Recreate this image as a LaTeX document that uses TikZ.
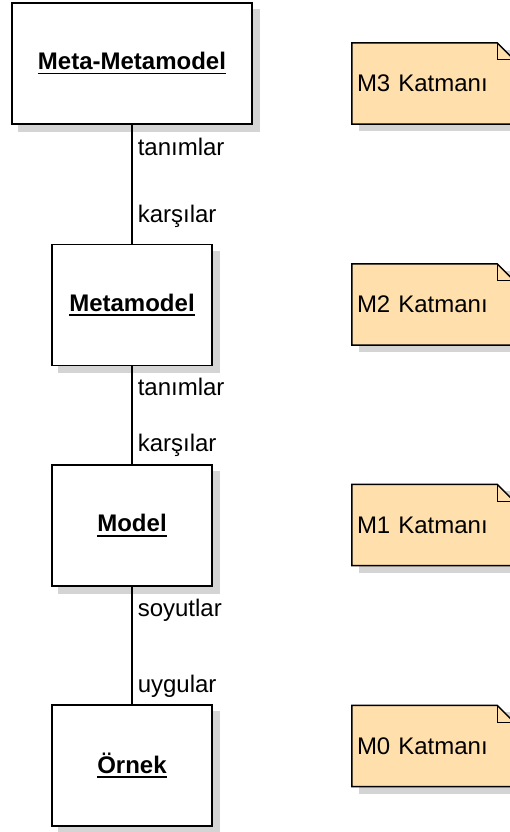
\documentclass[tikz,border=0pt]{standalone}
\usepackage{fontspec}
\setmainfont{Liberation Sans}
\usetikzlibrary{backgrounds}
\definecolor{notefill}{RGB}{255,223,172}
\definecolor{shadowgray}{RGB}{212,212,212}

% underline drawn as a rule below the word
\newcommand\ulabel[1]{\setbox0\hbox{#1}\rlap{\vrule height -2.8pt depth 4.6pt width \wd0}\box0}
% dog-eared outline and shadow of a note node
\newcommand\notebody[1]{%
  \fill[shadowgray] ([shift={(7,7)}]#1.north west) rectangle ([shift={(7,7)}]#1.south east);
  \filldraw[fill=notefill, line width=1.5pt] (#1.south west) -- (#1.north west) -- ([shift={(-17,0)}]#1.north east) -- ([shift={(0,17)}]#1.north east) -- (#1.south east) -- cycle;
  \draw[line width=1.2pt] ([shift={(-17,0)}]#1.north east) |- ([shift={(0,17)}]#1.north east);
}
\newcommand\boxshadow[1]{%
  \fill[shadowgray] ([shift={(7,7)}]#1.north west) rectangle ([shift={(7,7)}]#1.south east);
}

\begin{document}
\begin{tikzpicture}[x=1pt,y=1pt,yscale=-1,xscale=1,
  every node/.style={font=\fontsize{24}{28}\selectfont},
  level/.style={draw, fill=white, line width=1.5pt, minimum width=160pt, minimum height=121pt, inner sep=0pt, font=\fontsize{24}{28}\selectfont\bfseries},
  layer/.style={minimum width=162pt, minimum height=81pt, text width=152pt, inner xsep=5pt, inner ysep=0pt, align=left},
  link/.style={line width=1.5pt},
  lbl/.style={anchor=base west, inner sep=0pt, xshift=5pt}]
\useasboundingbox (0,0) rectangle (509,832);

% levels
\node[level, minimum width=240pt] (metameta) at (132,63.5) {\ulabel{Meta-Metamodel}};
\node[level] (meta) at (132,305) {\ulabel{Metamodel}};
\node[level] (model) at (132,525.5) {\ulabel{Model}};
\node[level] (ornek) at (132,765.5) {\ulabel{Örnek}};

% layer notes
\node[layer] (m3) at (433,83.5) {M3 Katmanı};
\node[layer] (m2) at (433,304.5) {M2 Katmanı};
\node[layer] (m1) at (433,525) {M1 Katmanı};
\node[layer] (m0) at (433,746) {M0 Katmanı};

\begin{scope}[on background layer]
\boxshadow{metameta}
\boxshadow{meta}
\boxshadow{model}
\boxshadow{ornek}
\notebody{m3}
\notebody{m2}
\notebody{m1}
\notebody{m0}
\end{scope}

% connectors
\draw[link] (metameta) -- node[lbl, pos=.26] {tanımlar} node[lbl, pos=.82] {karşılar} (meta);
\draw[link] (meta) -- node[lbl, pos=.30] {tanımlar} node[lbl, pos=.87] {karşılar} (model);
\draw[link] (model) -- node[lbl, pos=.25] {soyutlar} node[lbl, pos=.90] {uygular} (ornek);
\end{tikzpicture}
\end{document}
